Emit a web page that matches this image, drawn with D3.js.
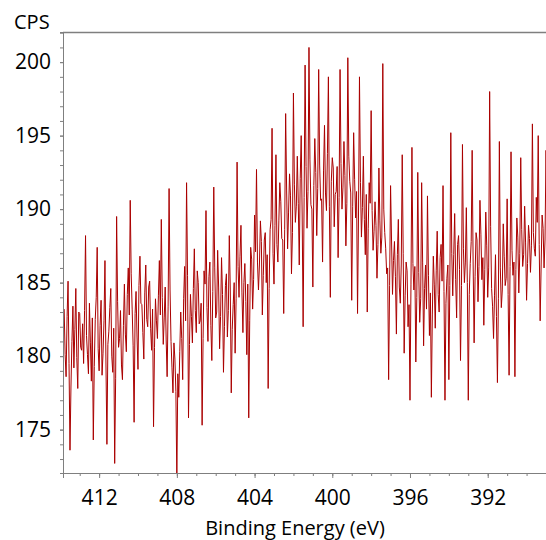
<!DOCTYPE html>
<html>
<head>
<meta charset="utf-8">
<script src="https://cdn.jsdelivr.net/npm/d3@7"></script>
<style>
  body { margin: 0; background: #fff; }
  svg text { font-family: "Open Sans", "Liberation Sans", sans-serif; fill: #000; }
</style>
</head>
<body>
<div id="chart"></div>
<script>
// N 1s spectrum, sampled every 0.05 eV starting at 413.8 eV
var energyStart = 413.8,
    energyStep = 0.05;

// one row per eV (20 samples)
var cps = [
  183.2,180.1, 178.6,182.7, 185.1,179.5, 173.6,177.9, 181.0,183.4, 179.2,181.8, 184.6,179.9, 177.8,183.0, 182.9,180.6, 180.4,182.2,
  179.5,183.1, 188.2,181.4, 180.1,178.8, 183.6,180.9, 178.3,182.6, 174.3,179.3, 182.5,184.0, 187.4,180.5, 179.0,182.1, 183.8,178.7,
  180.2,182.4, 186.5,179.6, 174.0,180.8, 181.7,183.3, 184.6,180.0, 178.9,181.9, 172.7,178.5, 189.5,183.7, 180.6,181.2, 183.1,179.4,
  178.4,182.1, 184.9,181.5, 180.3,184.2, 186.0,182.8, 190.6,185.6, 183.2,180.7, 175.5,182.9, 184.4,181.3, 179.1,184.8, 186.8,183.6,
  183.5,181.6, 179.8,184.3, 186.2,182.5, 182.0,184.7, 185.1,181.9, 180.4,183.2, 175.2,180.6, 183.9,182.4, 181.2,184.1, 186.5,182.8,
  189.3,184.0, 180.8,182.6, 184.7,181.1, 178.6,183.4, 191.4,184.5, 181.0,179.2, 177.5,180.9, 179.8,177.6, 171.5,178.8, 177.2,180.3,
  183.0,181.2, 178.4,183.9, 186.1,182.4, 191.8,185.5, 175.8,180.8, 184.2,182.7, 180.9,184.6, 187.3,183.1, 181.6,185.8, 185.0,182.2,
  182.4,183.6, 175.3,181.2, 185.8,184.9, 189.9,183.3, 181.0,185.4, 186.4,182.1, 179.7,184.4, 191.5,186.0, 182.6,183.0, 187.2,184.7,
  180.5,182.7, 186.7,184.2, 178.9,182.0, 184.8,185.6, 181.3,183.1, 188.2,184.5, 177.5,181.8, 183.5,185.0, 180.2,183.9, 193.2,186.1,
  184.0,186.8, 188.9,184.3, 181.6,185.0, 186.3,183.7, 180.1,184.9, 175.8,182.4, 187.4,186.6, 183.2,185.2, 189.6,187.1, 192.7,186.4,
  184.5,186.2, 189.2,187.8, 182.8,185.5, 187.9,188.4, 185.0,186.9, 177.8,184.6, 188.6,189.3, 195.5,187.0, 184.9,188.9, 193.7,187.6,
  186.4,189.2, 191.8,190.5, 188.0,187.9, 182.9,188.6, 196.5,191.3, 187.3,189.8, 192.4,190.9, 185.6,188.4, 197.9,191.7, 189.1,190.2,
  193.6,190.4, 186.2,192.1, 195.0,189.6, 182.0,190.8, 199.8,192.9, 188.7,191.2, 201.0,193.4, 190.3,190.0, 184.7,191.6, 194.8,192.5,
  188.2,191.4, 199.5,193.0, 190.6,190.7, 186.4,192.6, 195.7,191.1, 189.9,193.8, 199.0,190.2, 184.0,191.9, 193.5,192.8, 188.8,191.0,
  191.2,192.9, 186.7,190.8, 199.5,193.1, 190.0,191.5, 194.6,192.3, 187.5,190.4, 200.3,193.6, 191.9,191.1, 183.8,190.2, 195.2,192.0,
  189.4,191.2, 182.9,189.6, 199.0,191.8, 188.1,190.1, 193.6,189.3, 186.9,191.0, 183.0,188.7, 191.8,190.4, 196.7,189.9, 187.2,188.5,
  190.5,188.9, 185.3,187.6, 192.8,189.2, 187.0,188.1, 199.9,190.0, 188.4,187.3, 185.6,186.0, 178.4,184.8, 191.6,187.9, 184.2,186.5,
  187.8,185.4, 181.5,186.9, 189.3,184.7, 183.6,186.2, 193.7,187.0, 180.2,184.1, 186.4,185.8, 182.0,183.5, 177.0,184.9, 194.2,186.3,
  184.5,186.1, 179.6,184.0, 192.5,185.7, 182.3,183.9, 191.8,186.4, 180.7,184.6, 186.2,183.2, 190.9,185.5, 181.4,184.3, 177.2,182.8,
  186.8,184.9, 181.9,185.8, 188.5,184.2, 183.0,186.7, 187.6,185.1, 191.6,184.4, 177.0,183.6, 185.3,186.2, 178.4,184.8, 195.2,187.0,
  184.1,186.9, 189.7,185.2, 182.6,187.6, 188.2,185.9, 179.7,184.8, 194.4,187.3, 185.0,186.4, 190.1,185.0, 177.0,184.2, 186.3,187.8,
  194.0,186.2, 180.9,185.4, 188.4,187.9, 183.7,186.1, 190.6,188.3, 185.2,186.7, 182.1,185.9, 189.8,187.5, 184.0,186.0, 198.0,188.8,
  184.6,183.4, 181.2,184.1, 186.9,182.7, 178.2,183.9, 194.6,186.0, 183.3,184.5, 189.0,186.8, 184.8,185.3, 190.7,184.2, 178.7,186.1,
  193.9,187.2, 185.5,186.4, 178.6,185.9, 189.4,188.1, 184.3,187.0, 193.5,188.6, 186.1,186.9, 190.2,187.7, 183.8,186.3, 188.9,188.0,
  185.7,187.5, 195.8,188.4, 187.3,186.8, 190.8,189.1, 195.0,187.6, 182.4,186.2, 189.6,188.7, 186.0,187.9, 194.0,188.9, 188.5,187.4
];

var xTicks = [412, 408, 404, 400, 396, 392];
var yTicks = [175, 180, 185, 190, 195, 200];

var width = 546, height = 540;
var margin = {top: 32, right: 0, bottom: 67, left: 63};

var svg = d3.select("#chart").append("svg")
    .attr("width", width)
    .attr("height", height);

var x = d3.scaleLinear()
    .domain([413.86, 389.0])
    .range([margin.left, width - margin.right]);

var y = d3.scaleLinear()
    .domain([172.05, 202.05])
    .range([height - margin.bottom, margin.top]);

var points = cps.map(function(v, i) {
    return {e: energyStart - i * energyStep, v: v};
});

svg.append("clipPath").attr("id", "plot-clip")
  .append("rect")
    .attr("x", margin.left + 1)
    .attr("y", margin.top + 1)
    .attr("width", width - margin.left - margin.right - 1)
    .attr("height", height - margin.top - margin.bottom - 1);

var line = d3.line()
    .x(function(d) { return x(d.e); })
    .y(function(d) { return y(d.v); });

svg.append("path")
    .datum(points)
    .attr("clip-path", "url(#plot-clip)")
    .attr("fill", "none")
    .attr("stroke", "#aa0000")
    .attr("stroke-width", 1)
    .attr("stroke-linejoin", "miter")
    .attr("d", line);

// minor ticks every 1 unit
var xMinor = d3.range(389, 414, 1);
var yMinor = d3.range(173, 203, 1);

var xAxisG = svg.append("g")
    .attr("transform", "translate(0," + (height - margin.bottom) + ")");
xAxisG.call(d3.axisBottom(x).tickValues(xMinor).tickSize(3).tickFormat(""));
xAxisG.append("g").call(d3.axisBottom(x).tickValues(xTicks).tickSize(5).tickPadding(12).tickFormat(d3.format("d")));
xAxisG.selectAll(".domain").attr("stroke", "#7f7f7f");
xAxisG.selectAll("line").attr("stroke", "#7f7f7f");
xAxisG.selectAll("text").attr("font-size", 21).attr("fill", "#000")
    .style("font-family", "'Open Sans', 'Liberation Sans', sans-serif");

var yAxisG = svg.append("g")
    .attr("transform", "translate(" + margin.left + ",0)");
yAxisG.call(d3.axisLeft(y).tickValues(yMinor).tickSize(3).tickFormat(""));
yAxisG.append("g").call(d3.axisLeft(y).tickValues(yTicks).tickSize(3).tickPadding(9).tickFormat(d3.format("d")));
yAxisG.selectAll(".domain").attr("stroke", "#7f7f7f");
yAxisG.selectAll("line").attr("stroke", "#7f7f7f");
yAxisG.selectAll("text").attr("font-size", 21).attr("fill", "#000")
    .style("font-family", "'Open Sans', 'Liberation Sans', sans-serif");

// top frame line
svg.append("line")
    .attr("x1", margin.left).attr("x2", width)
    .attr("y1", margin.top + 0.5).attr("y2", margin.top + 0.5)
    .attr("stroke", "#7f7f7f")
    .attr("stroke-width", 1.5);

svg.append("text")
    .attr("x", 14)
    .attr("y", 29)
    .attr("font-size", 20)
    .text("CPS");

svg.append("text")
    .attr("x", 295)
    .attr("y", 535)
    .attr("text-anchor", "middle")
    .attr("font-size", 20)
    .text("Binding Energy (eV)");
</script>
</body>
</html>
